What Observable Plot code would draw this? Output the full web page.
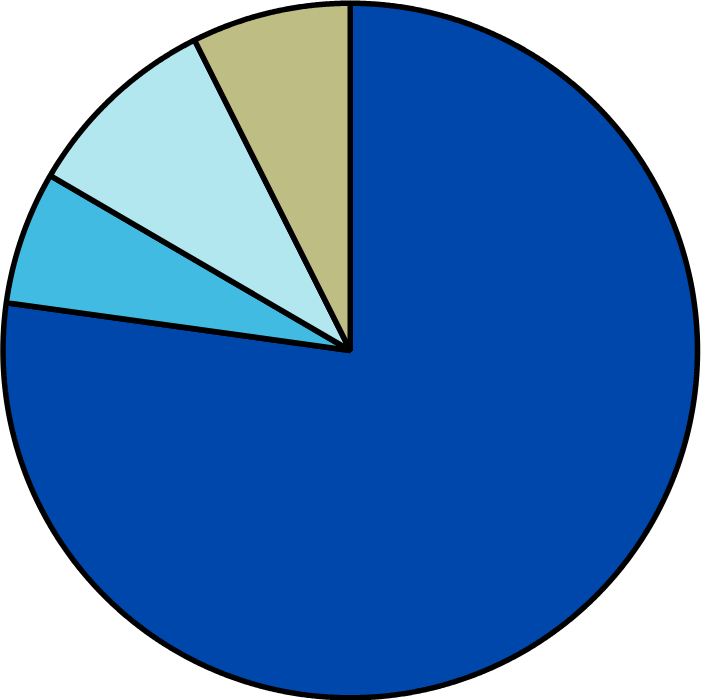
<!DOCTYPE html>
<html>
<head>
<meta charset="utf-8">
<script src="https://cdn.jsdelivr.net/npm/d3@7"></script>
<script src="https://cdn.jsdelivr.net/npm/@observablehq/plot@0.6"></script>
<style>
  html, body { margin: 0; padding: 0; background: #ffffff; }
  #chart svg { display: block; }
</style>
</head>
<body>
<div id="chart"></div>
<script>
// Data, clockwise from 12 o'clock
const categories = ["Slice A", "Slice B", "Slice C", "Slice D"];
const values = [77.2, 6.2, 9.2, 7.4];
const colors = ["#0047ab", "#41bbe2", "#b3e7ef", "#bdbd84"];

// Pie layout from d3, slices rendered as polygons by Plot's geo mark
const arcs = d3.pie().sort(null).value((d, i) => values[i])(categories);
const stepDeg = 0.25;
const features = arcs.map((a, i) => {
  const n = Math.max(2, Math.ceil((a.endAngle - a.startAngle) / (stepDeg * Math.PI / 180)));
  const ring = [[0, 0]];
  for (let k = 0; k <= n; k++) {
    const t = a.startAngle + (a.endAngle - a.startAngle) * k / n;
    ring.push([Math.sin(t), -Math.cos(t)]);
  }
  ring.push([0, 0]);
  return {type: "Feature", properties: {name: categories[i]}, geometry: {type: "Polygon", coordinates: [ring]}};
});
const domainCircle = {type: "FeatureCollection", features};

const chart = Plot.plot({
  width: 702,
  height: 700,
  marginLeft: 2.5,
  marginRight: 5,
  marginTop: 2.75,
  marginBottom: 2.75,
  projection: {type: "identity", domain: domainCircle},
  color: {domain: categories, range: colors, legend: false},
  marks: [
    Plot.geo(features, {
      fill: d => d.properties.name,
      stroke: "#000000",
      strokeWidth: 5.5,
      strokeLinejoin: "miter"
    })
  ]
});
document.getElementById("chart").appendChild(chart);
</script>
</body>
</html>
